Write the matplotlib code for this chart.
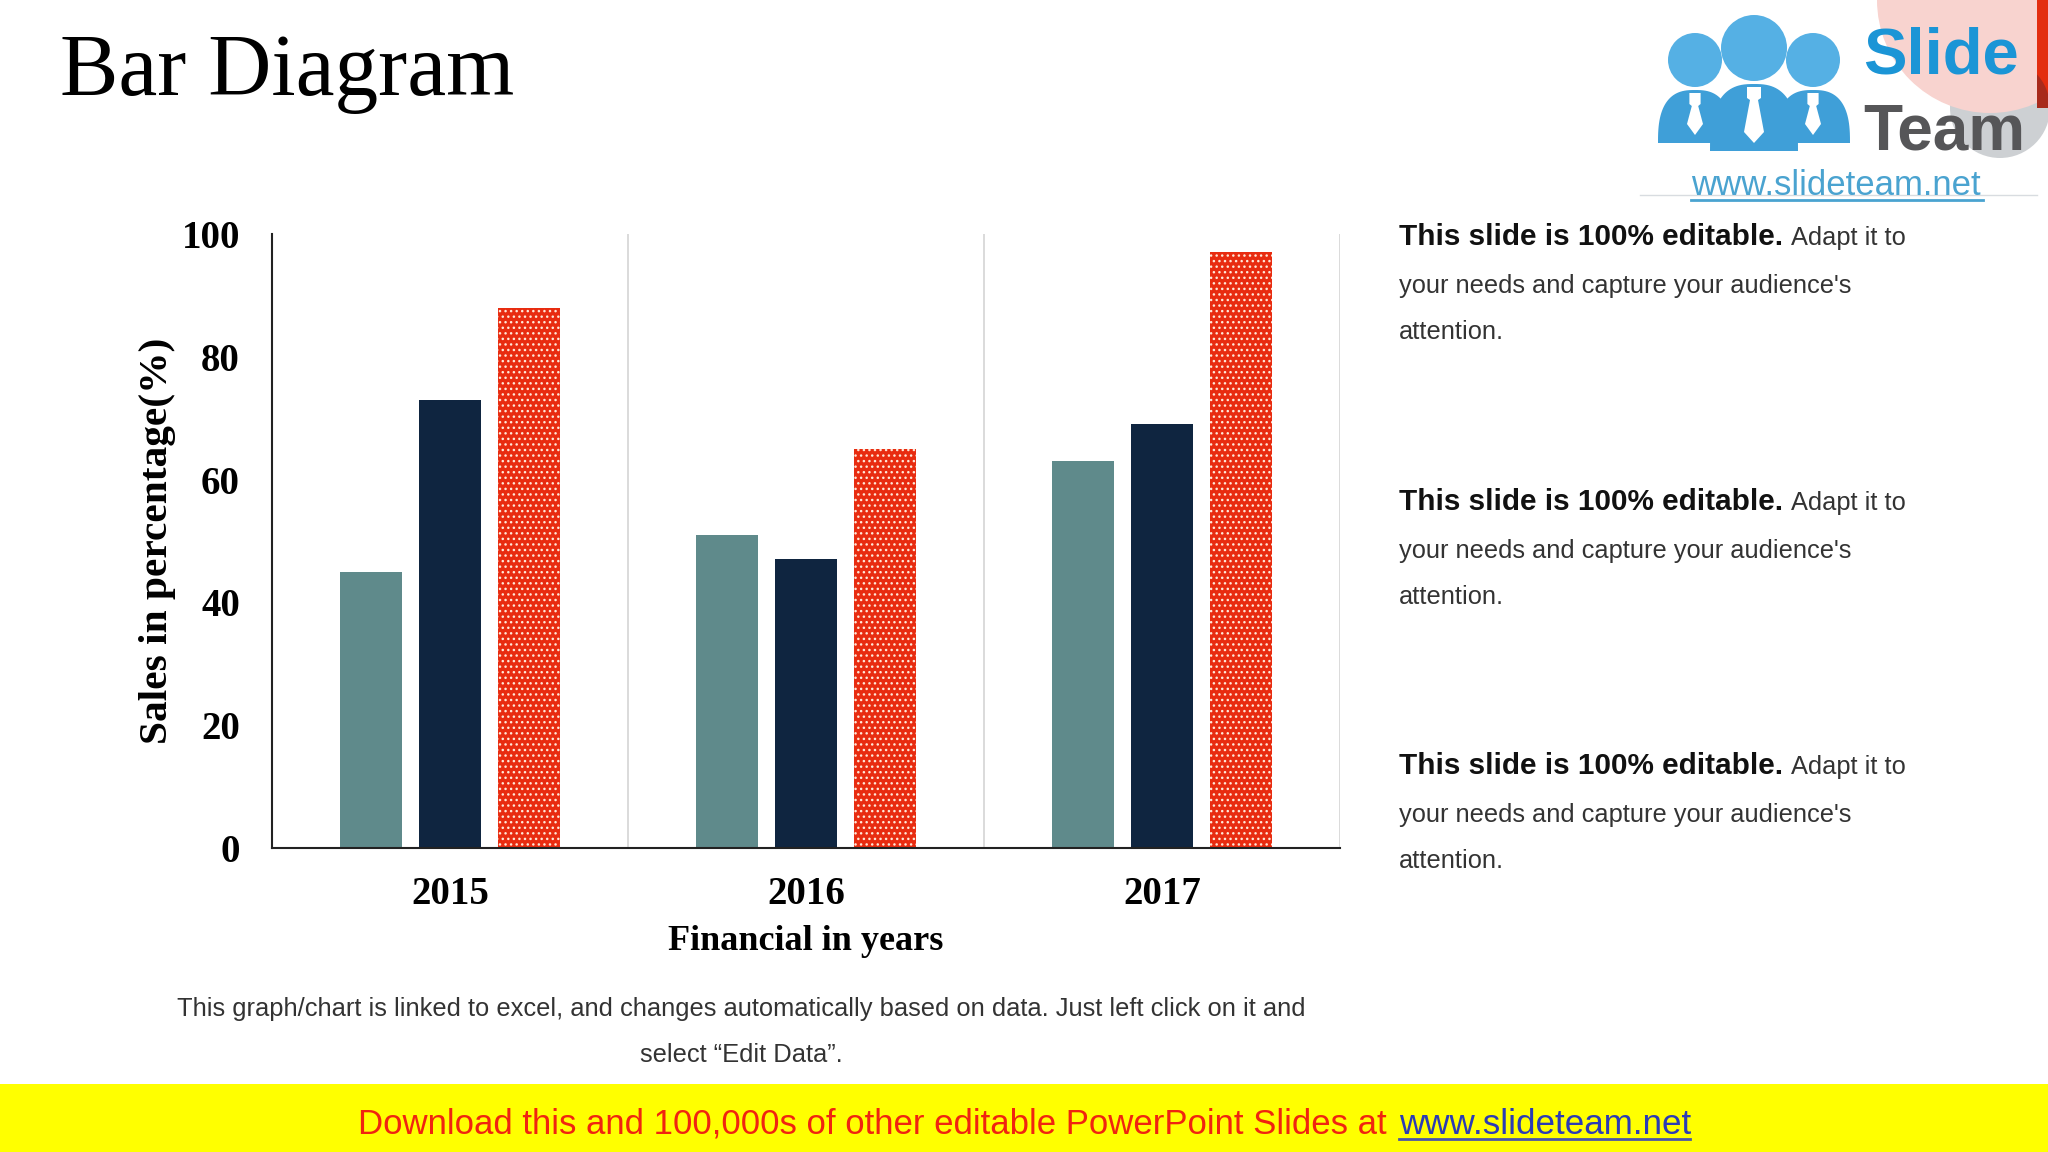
# Bar Diagram slide
import numpy as np
import matplotlib
matplotlib.use('Agg')
import matplotlib.pyplot as plt
from matplotlib.patches import Circle, Rectangle, Polygon

# chart data
years = ['2015', '2016', '2017']
teal_vals = [45, 51, 63]
navy_vals = [73, 47, 69]
red_vals = [88, 65, 97]
y_ticks = [0, 20, 40, 60, 80, 100]

title = 'Bar Diagram'
y_title = 'Sales in percentage(%)'
x_title = 'Financial in years'
bold_note = 'This slide is 100% editable.'
note_lines = ['Adapt it to', "your needs and capture your audience's", 'attention.']
foot_lines = ['This graph/chart is linked to excel, and changes automatically based on data. Just left click on it and',
              'select \u201cEdit Data\u201d.']
banner = 'Download this and 100,000s of other editable PowerPoint Slides at '
site = 'www.slideteam.net'

serif = 'Liberation Serif'
sans = 'Liberation Sans'

plt.rcParams['hatch.linewidth'] = 1.0

fig = plt.figure(figsize=(20.48, 11.52), dpi=100, facecolor='white')

# full slide layer, in pixels
bg = fig.add_axes([0, 0, 1, 1])
bg.set_xlim(0, 2048)
bg.set_ylim(1152, 0)
bg.axis('off')

bg.text(60, 95, title, family=serif, fontsize=63, color='black')

# corner decoration
bg.add_patch(Circle((2000, 108), 50, fc='#CDD0D3', ec='none'))
bg.add_patch(Circle((1990, 0), 113, fc='#F8D3CF', ec='none'))
strip = Rectangle((2037, 0), 11, 108, fc='#E32D0F', ec='none')
bg.add_patch(strip)
dark = Circle((2000, 108), 50, fc='#A82A1C', ec='none')
bg.add_patch(dark)
dark.set_clip_path(strip)
bg.plot([1640, 2037], [195, 195], color='#D8DCE0', lw=1)


# logo figures
def person(cx, head_y, head_r, hw, top, bottom, tie_hw):
    t = np.linspace(np.pi, 0, 60)
    bx = cx + hw * np.sign(np.cos(t)) * np.abs(np.cos(t)) ** 0.75
    by = bottom - (bottom - top) * np.sin(t) ** 0.75
    bg.add_patch(Polygon(np.column_stack([bx, by]), fc='#3F9FD8', ec='none'))
    bg.add_patch(Circle((cx, head_y), head_r, fc='#55B0E4', ec='none'))
    tie = [(cx - tie_hw * 0.7, top + 3), (cx + tie_hw * 0.7, top + 3), (cx + tie_hw * 0.7, top + 14),
           (cx + tie_hw * 0.4, top + 16), (cx + tie_hw, bottom - 19), (cx, bottom - 8),
           (cx - tie_hw, bottom - 19), (cx - tie_hw * 0.4, top + 16), (cx - tie_hw * 0.7, top + 14)]
    bg.add_patch(Polygon(tie, fc='white', ec='none'))


person(1695, 60, 27, 37, 90, 143, 8)
person(1813, 60, 27, 37, 90, 143, 8)
person(1754, 48, 33, 44, 84, 151, 10)
bg.text(1863, 73, 'Slide', family=sans, weight='bold', fontsize=47, color='#1B95D6')
bg.text(1863, 150, 'Team', family=sans, weight='bold', fontsize=46, color='#565658')
bg.text(1691, 195, site, family=sans, fontsize=25, color='#4AA3D0')
bg.plot([1691, 1983], [200, 200], color='#4AA3D0', lw=2)

# right hand notes
for top in [245, 510, 774]:
    bg.text(1399, top, bold_note, family=sans, weight='bold', fontsize=21.4, color='#111111')
    bg.text(1791, top, note_lines[0], family=sans, fontsize=18.3, color='#333333')
    bg.text(1399, top + 48, note_lines[1], family=sans, fontsize=18.3, color='#333333')
    bg.text(1399, top + 94, note_lines[2], family=sans, fontsize=18.3, color='#333333')

# note under the chart
bg.text(741, 1016, foot_lines[0], family=sans, fontsize=18.35, color='#333333', ha='center')
bg.text(741, 1062, foot_lines[1], family=sans, fontsize=18.35, color='#333333', ha='center')

# yellow banner
bg.add_patch(Rectangle((0, 1084), 2048, 68, fc='#FFFF00', ec='none'))
bg.text(358, 1134, banner, family=sans, fontsize=25, color='#F02410')
bg.text(1399, 1134, site, family=sans, fontsize=25.2, color='#2B3BB5')
bg.plot([1399, 1690], [1139, 1139], color='#4A55A8', lw=2)

# chart
ax = fig.add_axes([272 / 2048, 1 - 848 / 1152, 1068 / 2048, 614 / 1152])
ax.patch.set_alpha(0)
x = np.arange(len(years)) + 0.5
w = 62 / 356
step = 79 / 356
ax.bar(x - step, teal_vals, w, color='#5F8A8B')
ax.bar(x, navy_vals, w, color='#0F2540')
ax.bar(x + step, red_vals, w, color='#E82C10', edgecolor='#FFE8D8', hatch='...', linewidth=0)

ax.set_xlim(0, 3)
ax.set_ylim(0, 100)
ax.set_xticks(x)
ax.set_xticklabels(years, family=serif, weight='bold', fontsize=28)
ax.set_yticks(y_ticks)
ax.set_yticklabels(y_ticks, family=serif, weight='bold', fontsize=28)
ax.tick_params(axis='both', length=0)
ax.tick_params(axis='x', pad=20)
ax.tick_params(axis='y', pad=23)
ax.vlines([1, 2, 3], 0, 100, color='#D4D4D4', lw=1.2)
ax.spines['top'].set_visible(False)
ax.spines['right'].set_visible(False)
for s in ['left', 'bottom']:
    ax.spines[s].set_linewidth(1.5)
    ax.spines[s].set_color('#222222')
ax.set_xlabel(x_title, family=serif, weight='bold', fontsize=26, labelpad=9)
ax.set_ylabel(y_title, family=serif, weight='bold', fontsize=29.8, labelpad=4)

fig.savefig('out.png', dpi=100)
